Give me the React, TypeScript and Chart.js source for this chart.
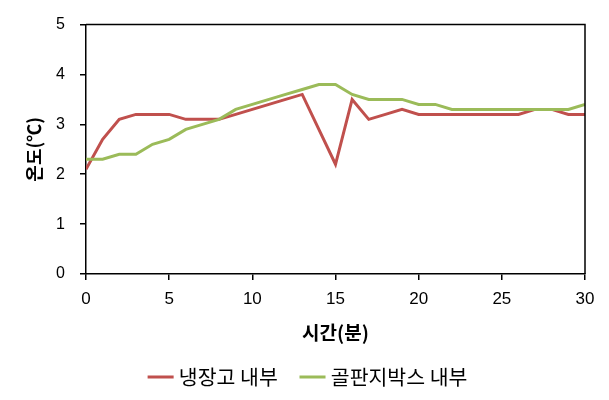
import React, { useEffect, useRef } from "react";
import { Chart, registerables } from "chart.js";

Chart.register(...registerables);

const minutes = [0, 1, 2, 3, 4, 5, 6, 7, 8, 9, 10, 11, 12, 13, 14, 15, 16, 17, 18, 19, 20, 21, 22, 23, 24, 25, 26, 27, 28, 29, 30];
const fridgeTemps = [2.1, 2.7, 3.1, 3.2, 3.2, 3.2, 3.1, 3.1, 3.1, 3.2, 3.3, 3.4, 3.5, 3.6, 2.9, 2.2, 3.5, 3.1, 3.2, 3.3, 3.2, 3.2, 3.2, 3.2, 3.2, 3.2, 3.2, 3.3, 3.3, 3.2, 3.2];
const boxTemps = [2.3, 2.3, 2.4, 2.4, 2.6, 2.7, 2.9, 3.0, 3.1, 3.3, 3.4, 3.5, 3.6, 3.7, 3.8, 3.8, 3.6, 3.5, 3.5, 3.5, 3.4, 3.4, 3.3, 3.3, 3.3, 3.3, 3.3, 3.3, 3.3, 3.3, 3.4];
const seriesNames = ["냉장고 내부", "골판지박스 내부"];
const xTitle = "시간(분)";
const yTitle = "온도(℃)";

const frameBox = {
  id: "frameBox",
  afterDatasetsDraw(chart: any) {
    const { ctx, chartArea } = chart;
    ctx.save();
    ctx.strokeStyle = "#000";
    ctx.lineWidth = 1.5;
    ctx.beginPath();
    ctx.moveTo(chartArea.left, chartArea.top);
    ctx.lineTo(chartArea.right, chartArea.top);
    ctx.lineTo(chartArea.right, chartArea.bottom);
    ctx.stroke();
    ctx.restore();
  },
};

export default function App() {
  const ref = useRef<HTMLCanvasElement | null>(null);

  useEffect(() => {
    if (!ref.current) return;
    const chart = new Chart(ref.current, {
      type: "line",
      data: {
        datasets: [
          {
            label: seriesNames[0],
            data: minutes.map((m, i) => ({ x: m, y: fridgeTemps[i] })),
            borderColor: "#C0504D",
            backgroundColor: "#C0504D",
            borderWidth: 3,
            pointRadius: 0,
            tension: 0,
            order: 1,
          },
          {
            label: seriesNames[1],
            data: minutes.map((m, i) => ({ x: m, y: boxTemps[i] })),
            borderColor: "#9BBB59",
            backgroundColor: "#9BBB59",
            borderWidth: 3,
            pointRadius: 0,
            tension: 0,
            order: 0,
          },
        ],
      },
      options: {
        animation: false,
        responsive: true,
        maintainAspectRatio: false,
        layout: { padding: { left: 11, right: 0, top: 17, bottom: 2.75 } },
        plugins: {
          tooltip: { enabled: false },
          legend: {
            position: "bottom",
            labels: {
              usePointStyle: true,
              pointStyle: "line",
              boxWidth: 16,
              boxHeight: 18.4,
              padding: 26.75,
              color: "#000",
              font: { family: "'Noto Sans CJK KR'", size: 20.5 },
              sort: (a: any, b: any) => a.datasetIndex - b.datasetIndex,
            },
          },
        },
        scales: {
          x: {
            type: "linear",
            min: 0,
            max: 30,
            afterFit: (s: any) => {
              s.height = 66;
            },
            ticks: {
              stepSize: 5,
              padding: 9,
              color: "#000",
              font: { family: "'Liberation Sans'", size: 17 },
            },
            grid: { display: true, drawOnChartArea: false, drawTicks: true, tickLength: 6, color: "#000", lineWidth: 1.5 },
            border: { display: true, color: "#000", width: 1.5 },
            title: {
              display: true,
              text: xTitle,
              color: "#000",
              padding: { top: 0, bottom: -4.4 },
              font: { family: "'Noto Sans CJK KR'", size: 19, weight: "bold" },
            },
          },
          y: {
            type: "linear",
            min: 0,
            max: 5,
            afterFit: (s: any) => {
              s.width = 75;
            },
            ticks: {
              stepSize: 1,
              padding: 15,
              color: "#000",
              font: { family: "'Liberation Sans'", size: 16 },
            },
            grid: { display: true, drawOnChartArea: false, drawTicks: true, tickLength: 6, color: "#000", lineWidth: 1.5 },
            border: { display: true, color: "#000", width: 1.5 },
            title: {
              display: true,
              text: yTitle,
              color: "#000",
              padding: { top: 12.2, bottom: 0 },
              font: { family: "'Noto Sans CJK KR'", size: 18, weight: "bold" },
            },
          },
          yR: {
            type: "linear",
            position: "right",
            display: true,
            afterFit: (s: any) => {
              s.width = 24;
            },
            ticks: { display: false },
            grid: { display: false },
            border: { display: false },
          },
        },
      },
      plugins: [frameBox],
    });
    return () => chart.destroy();
  }, []);

  return (
    <div style={{ position: "absolute", left: 0, top: 0, width: 609, height: 400, background: "#fff" }}>
      <canvas ref={ref} />
    </div>
  );
}
